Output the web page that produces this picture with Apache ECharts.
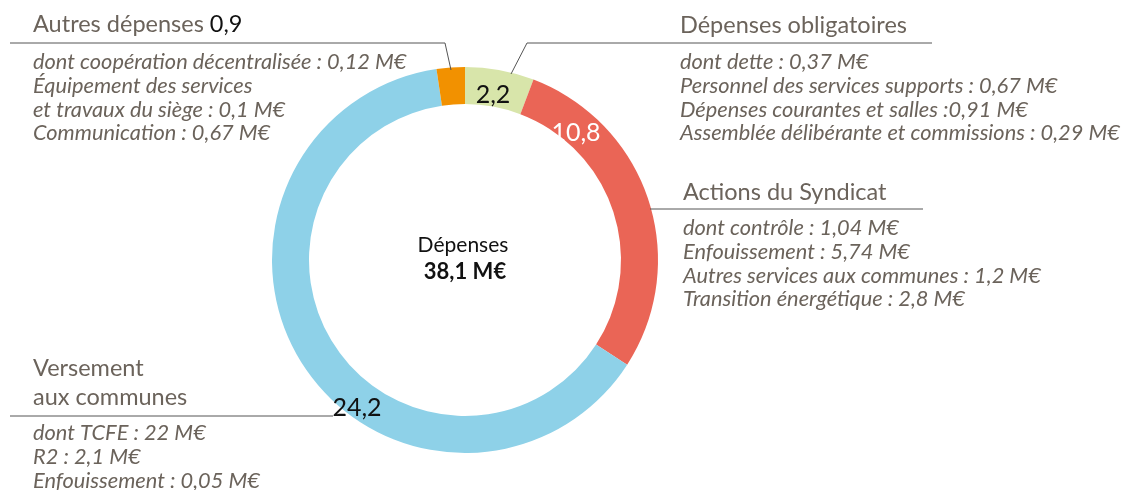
<!DOCTYPE html>
<html>
<head>
<meta charset="utf-8">
<script src="https://cdn.jsdelivr.net/npm/echarts@6/dist/echarts.min.js"></script>
<style>
  html, body { margin: 0; padding: 0; background: #fff; }
  #main { width: 1130px; height: 490px; }
</style>
</head>
<body>
<div id="main"></div>
<script>
// données (M€)
var categories = ['Dépenses obligatoires', 'Actions du Syndicat', 'Versement aux communes', 'Autres dépenses'];
var values = [2.2, 10.8, 24.2, 0.9];
var colors = ['#d8e5aa', '#ea6556', '#8ed1e8', '#f29100'];
var total = 38.1;

var detailsOblig = ['dont dette : 0,37 M€', 'Personnel des services supports : 0,67 M€', 'Dépenses courantes et salles :0,91 M€', 'Assemblée délibérante et commissions : 0,29 M€'];
var detailsActions = ['dont contrôle : 1,04 M€', 'Enfouissement : 5,74 M€', 'Autres services aux communes : 1,2 M€', 'Transition énergétique : 2,8 M€'];
var detailsVersement = ['dont TCFE : 22 M€', 'R2 : 2,1 M€', 'Enfouissement : 0,05 M€'];
var detailsAutres = ['dont coopération décentralisée : 0,12 M€', 'Équipement des services', 'et travaux du siège : 0,1 M€', 'Communication : 0,67 M€'];

function fr(v) { return String(v).replace('.', ','); }

var FONT = 'Lato';
var GREY = '#6b635b';

var chart = echarts.init(document.getElementById('main'));

function txt(x, y, text, opts) {
  opts = opts || {};
  return {
    type: 'text', x: x, y: y, z: 100, silent: true,
    style: {
      text: text,
      fill: opts.fill || GREY,
      font: (opts.italic ? 'italic ' : '') + (opts.bold ? 'bold ' : '') + (opts.size || 19) + 'px ' + FONT,
      textAlign: opts.align || 'left',
      textVerticalAlign: 'middle',
      rich: opts.rich
    }
  };
}

function block(x, y0, lines) {
  return lines.map(function (l, i) {
    return txt(x, y0 + i * 23.8, l, { italic: true, size: 21.8 });
  });
}

function line(points) {
  return { type: 'polyline', z: 100, silent: true, shape: { points: points }, style: { stroke: '#555', lineWidth: 1, fill: null } };
}

var graphics = [].concat(
  [txt(33, 24, 'Autres dépenses {b|' + fr(values[3]) + '}', {
    size: 23.5,
    rich: { b: { fill: '#111', font: '23.5px ' + FONT } }
  })],
  block(33, 62, detailsAutres),
  [txt(680, 25, categories[0], { size: 23.5 })],
  block(680, 62, detailsOblig),
  [txt(683, 192, categories[1], { size: 23.5 })],
  block(683, 228, detailsActions),
  [txt(33, 368, 'Versement', { size: 23.5 }), txt(33, 397, 'aux communes', { size: 23.5 })],
  block(33, 433, detailsVersement),
  [
    line([[10, 43], [445, 43], [451, 70]]),
    line([[511, 74], [527, 43], [932, 43]]),
    line([[650, 209], [923, 209]]),
    line([[10, 416], [333, 416]]),
    txt(493, 95, fr(values[0]), { size: 25, fill: '#111', align: 'center' }),
    txt(576, 133, fr(values[1]), { size: 25, fill: '#fff', align: 'center' }),
    txt(357, 408, fr(values[2]), { size: 25, fill: '#111', align: 'center' }),
    txt(463, 245, 'Dépenses', { size: 21, fill: '#111', align: 'center' }),
    txt(465, 272, fr(total) + ' M€', { size: 22, bold: true, fill: '#111', align: 'center' })
  ]
);

chart.setOption({
  animation: false,
  backgroundColor: '#fff',
  series: [{
    type: 'pie',
    center: [465, 260],
    radius: [156, 193],
    startAngle: 90,
    clockwise: true,
    silent: true,
    label: { show: false },
    labelLine: { show: false },
    data: categories.map(function (c, i) {
      return { name: c, value: values[i], itemStyle: { color: colors[i] } };
    })
  }],
  graphic: graphics
});
</script>
</body>
</html>
